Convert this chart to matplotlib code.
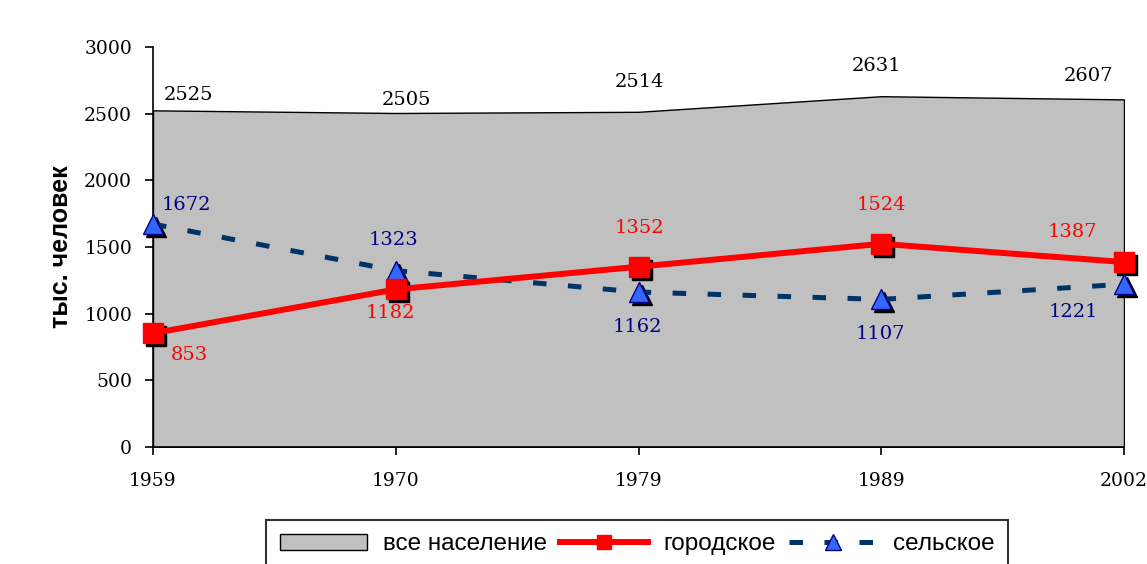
import numpy as np
import matplotlib
matplotlib.use('Agg')
import matplotlib.pyplot as plt
import matplotlib.transforms as mtransforms

years = ['1959', '1970', '1979', '1989', '2002']
total = [2525, 2505, 2514, 2631, 2607]
urban = [853, 1182, 1352, 1524, 1387]
rural = [1672, 1323, 1162, 1107, 1221]

legend_labels = ['все население', 'городское', 'сельское']
y_label = 'тыс. человек'

GRAY = '#C0C0C0'
RED = '#FF0000'
NAVY = '#003366'
BLUE = '#3366FF'
LABEL_NAVY = '#000080'

SERIF = 'DejaVu Serif'
SANS = 'Liberation Sans'

# label offsets in pixels (dx, dy) per point, relative to the data point
total_off = [(35, 15), (11, 13), (1, 30), (-5, 30), (-36, 23)]
urban_off = [(36, -22), (-5, -24), (1, 39), (0, 39), (-52, 30)]
rural_off = [(33, 19), (-2, 31), (-1, -35), (-1, -35), (-51, -28)]

fig = plt.figure(figsize=(11.47, 5.64), dpi=100)
ax = fig.add_axes([153 / 1147, 1 - 447 / 564, (1124 - 153) / 1147, 400 / 564])

x = np.arange(len(years))

area = ax.fill_between(x, total, 0, facecolor=GRAY, edgecolor='black', linewidth=1.0,
                       label=legend_labels[0], zorder=1)

shadow = mtransforms.offset_copy(ax.transData, fig=fig, x=3, y=-3, units='dots')

# marker shadows
ax.plot(x, urban, linestyle='none', marker='s', markersize=14, color='black',
        transform=shadow, zorder=3, clip_on=False)
ax.plot(x, rural, linestyle='none', marker='^', markersize=15, color='black',
        transform=shadow, zorder=3, clip_on=False)

rural_line, = ax.plot(x, rural, color=NAVY, linewidth=3.6, dashes=(2.7, 4.3),
                      dash_capstyle='butt', marker='^', markersize=15,
                      markerfacecolor=BLUE, markeredgecolor=LABEL_NAVY, markeredgewidth=1,
                      label=legend_labels[2], zorder=4, clip_on=False)
urban_line, = ax.plot(x, urban, color=RED, linewidth=4.3, marker='s', markersize=14,
                      markerfacecolor=RED, markeredgecolor=RED,
                      label=legend_labels[1], zorder=5, clip_on=False)

def put_labels(vals, offs, color):
    for xi, v, (dx, dy) in zip(x, vals, offs):
        ax.annotate(str(v), (xi, v), xytext=(dx * 0.72, dy * 0.72), textcoords='offset points',
                    ha='center', va='center', color=color, fontsize=14, family=SERIF,
                    zorder=6)

put_labels(total, total_off, 'black')
put_labels(urban, urban_off, RED)
put_labels(rural, rural_off, LABEL_NAVY)

ax.set_xlim(0, len(years) - 1)
ax.set_ylim(0, 3000)
ax.set_yticks(np.arange(0, 3001, 500))
ax.set_xticks(x)
ax.set_xticklabels(years)

for s in ['top', 'right']:
    ax.spines[s].set_visible(False)
for s in ['left', 'bottom']:
    ax.spines[s].set_linewidth(1.2)

ax.tick_params(axis='both', direction='out', length=6, width=1.2, labelsize=13.5)
ax.tick_params(axis='x', pad=12)
ax.tick_params(axis='y', pad=9)
for lab in ax.get_xticklabels() + ax.get_yticklabels():
    lab.set_family(SERIF)

ax.set_ylabel(y_label, fontsize=18, fontweight='bold', family=SANS)
ax.yaxis.set_label_coords(-0.082, 0.5)

leg = fig.legend(handles=[area, urban_line, rural_line], labels=legend_labels,
                 loc='upper center', bbox_to_anchor=(637 / 1147, 1 - 520 / 564),
                 ncol=3, frameon=True, fancybox=False, edgecolor='black',
                 prop={'family': SANS, 'size': 17.5}, handlelength=3.6,
                 handleheight=0.6, markerscale=0.75,
                 handletextpad=0.65, columnspacing=0.55, borderpad=0.55,
                 borderaxespad=0)
leg.get_frame().set_linewidth(1.5)

fig.savefig('out.png', dpi=100)
